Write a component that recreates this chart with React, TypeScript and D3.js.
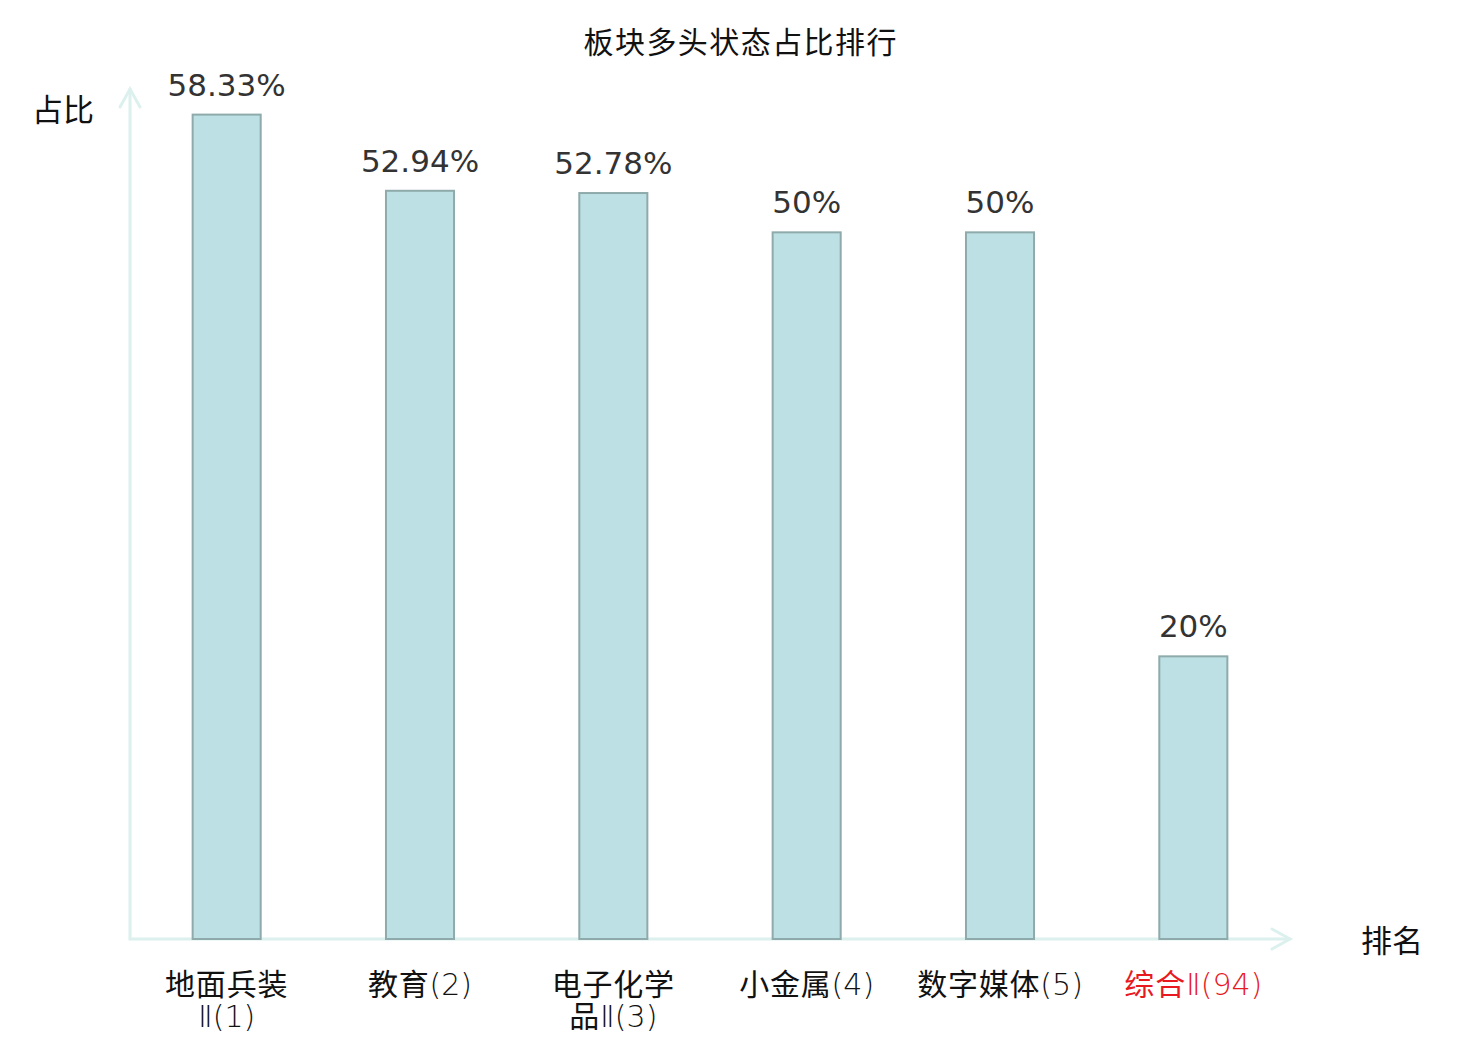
import React from "react";
import * as d3 from "d3";

const categories = ["地面兵装Ⅱ(1)", "教育(2)", "电子化学品Ⅱ(3)", "小金属(4)", "数字媒体(5)", "综合Ⅱ(94)"];
const values = [58.33, 52.94, 52.78, 50, 50, 20];
const valueLabels = ["58.33%", "52.94%", "52.78%", "50%", "50%", "20%"];
const highlight = [false, false, false, false, false, true];
const yDomain = [0, 60];

const W = 1480;
const H = 1040;
const X0 = 130;
const X1 = 1290;
const Y0 = 939;
const YTOP = 91;

const CJK = "'Noto Sans CJK SC', 'Noto Sans', sans-serif";
const LATIN_LIGHT = "'DejaVu Sans', 'Noto Sans CJK SC', sans-serif";

function splitLabel(s: string): string[] {
  const chars = Array.from(s);
  if (chars.length > 7) return [chars.slice(0, 4).join(""), chars.slice(4).join("")];
  return [s];
}

function LabelText({ text, x, y, color }: { text: string; x: number; y: number; color: string }) {
  const lines = splitLabel(text);
  return (
    <text x={x} y={y} textAnchor="middle" fill={color} fontFamily={CJK} fontSize={30} letterSpacing={0.8}>
      {lines.map((ln, i) => {
        const m = ln.match(/^([^Ⅱ(]*)(.*)$/);
        const head = m ? m[1] : ln;
        const tail = m ? m[2] : "";
        return (
          <tspan key={i} x={x} dy={i === 0 ? 0 : 32}>
            {head}
            {tail && (
              <tspan fontFamily={LATIN_LIGHT} fontWeight={200} letterSpacing={0}>
                {tail}
              </tspan>
            )}
          </tspan>
        );
      })}
    </text>
  );
}

export default function App() {
  const x = d3.scaleBand<string>().domain(categories).range([X0, X1]).padding(0);
  const y = d3.scaleLinear().domain(yDomain).range([Y0, YTOP]);
  const bw = x.bandwidth() * 0.352;
  const axisColor = "#dcf1ee";

  return (
    <svg width={W} height={H} style={{ position: "absolute", left: 0, top: 0, background: "#fff" }}>
      <text x={740} y={53} textAnchor="middle" fontFamily={CJK} fontSize={30} fill="#111" textLength={313} lengthAdjust="spacing">
        板块多头状态占比排行
      </text>

      <g stroke={axisColor} strokeWidth={3} fill="none" strokeLinecap="round">
        <line x1={X0} y1={Y0} x2={X0} y2={y(60) - 2} />
        <polyline points={`${X0 - 10},${y(60) + 16} ${X0},${y(60) - 2} ${X0 + 10},${y(60) + 16}`} />
        <line x1={X0} y1={Y0} x2={X1} y2={Y0} />
        <polyline points={`${X1 - 18},${Y0 - 10} ${X1},${Y0} ${X1 - 18},${Y0 + 10}`} />
      </g>

      <text x={63} y={121} textAnchor="middle" fontFamily={CJK} fontSize={31} fill="#111">占比</text>
      <text x={1392} y={952} textAnchor="middle" fontFamily={CJK} fontSize={31} fill="#111">排名</text>

      {categories.map((c, i) => {
        const cx = (x(c) as number) + x.bandwidth() / 2;
        const top = y(values[i]);
        return (
          <g key={c}>
            <rect x={cx - bw / 2} y={top} width={bw} height={Y0 - top} fill="#bce0e3" stroke="#8faaab" strokeWidth={2} />
            <text x={cx} y={top - 19} textAnchor="middle" fontFamily="'DejaVu Sans', sans-serif" fontSize={31} fill="#333">
              {valueLabels[i]}
            </text>
            <LabelText text={c} x={cx} y={995} color={highlight[i] ? "#e8191f" : "#111"} />
          </g>
        );
      })}
    </svg>
  );
}
